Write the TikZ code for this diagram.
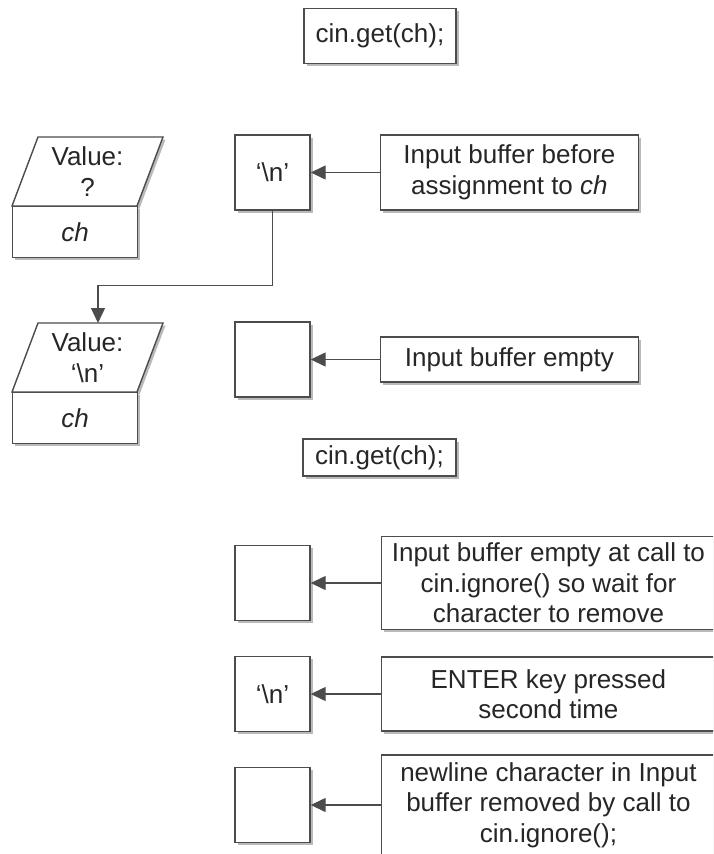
\documentclass[tikz,border=0pt]{standalone}
\usepackage{fontspec}
\setmainfont{Liberation Sans}
\usetikzlibrary{arrows.meta, positioning, shadows}

\newcommand\lbltext{\fontsize{26}{30.5}\selectfont}

\begin{document}
\begin{tikzpicture}[
    x=1pt, y=-1pt,
    every node/.style={text=black!85, font=\lbltext, align=center, inner sep=0pt},
    shade/.style={drop shadow={shadow xshift=2.5pt, shadow yshift=-2.5pt, fill=black!45, opacity=.6}},
    box/.style={draw=black!70, line width=1.4pt, fill=white, shade},
    bufbox/.style={box, minimum width=75pt, minimum height=75pt},
    labbox/.style={box, minimum width=258pt},
    widebox/.style={box, minimum width=334pt},
    valshape/.style={draw=black!70, line width=1.4pt, fill=white, shade},
    arr/.style={draw=black!70, line width=1.4pt, -{Triangle[length=15pt, width=14pt]}},
]
\useasboundingbox (0,0) rectangle (713,854);
\clip (0,0) rectangle (713,854);

% First call
\node[box, minimum width=152pt, minimum height=55pt] (get1) at (380,36) {cin.get(ch);};

% Variable ch before and after
\coordinate (v1) at (12,206);
\path[valshape] (v1) -- ++(26,-69) -- ++(125,0) -- ++(-26,69) -- cycle;
\node (val1) at (87.5,171.5) {Value:\\?};
\node[box, anchor=north west, minimum width=125pt, minimum height=51pt] (ch1) at (v1) {\textit{ch}};

\coordinate (v2) at (12,392);
\path[valshape] (v2) -- ++(26,-69) -- ++(125,0) -- ++(-26,69) -- cycle;
\node (val2) at (87.5,357.5) {Value:\\‘\textbackslash n’};
\node[box, anchor=north west, minimum width=125pt, minimum height=51pt] (ch2) at (v2) {\textit{ch}};
\coordinate (top2) at (98,323);

% Input buffer, first call
\node[bufbox] (buf1) at (272.5,172.5) {‘\textbackslash n’};
\node[labbox, minimum height=75pt, right=69pt of buf1] (lab1) {Input buffer before\\assignment to \textit{ch}};
\node[bufbox] (buf2) at (272.5,359.5) {};
\node[labbox, minimum height=45pt, right=69pt of buf2] (lab2) {Input buffer empty};

% Second call
\node[box, minimum width=153pt, minimum height=37pt] (get2) at (379.5,457.5) {cin.get(ch);};

\node[bufbox] (buf3) at (272.5,583) {};
\node[widebox, minimum height=93pt, right=70pt of buf3] (lab3) {Input buffer empty at call to\\cin.ignore() so wait for\\character to remove};
\node[bufbox] (buf4) at (272.5,694) {‘\textbackslash n’};
\node[widebox, minimum height=74pt, right=70pt of buf4] (lab4) {ENTER key pressed\\second time};
\node[bufbox] (buf5) at (272.5,805) {};
\node[widebox, minimum height=100pt, right=70pt of buf5] (lab5) {newline character in Input\\buffer removed by call to\\cin.ignore();};

% Arrows
\draw[arr] (lab1) -- (buf1);
\draw[arr] (lab2) -- (buf2);
\draw[arr] (lab3) -- (buf3);
\draw[arr] (lab4) -- (buf4);
\draw[arr] (lab5) -- (buf5);
\draw[arr] (buf1.south) -- ++(0,75) -| (top2);
\end{tikzpicture}
\end{document}
